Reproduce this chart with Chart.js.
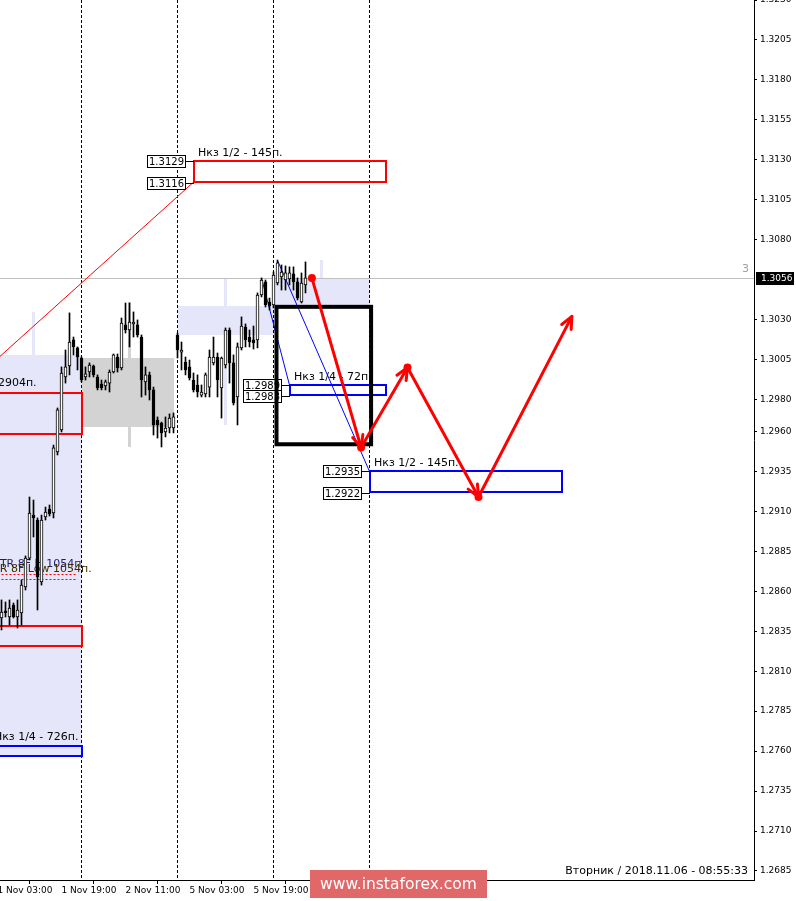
<!DOCTYPE html>
<html>
<head>
<meta charset="utf-8">
<script src="https://cdn.jsdelivr.net/npm/chart.js@4/dist/chart.umd.min.js"></script>
<style>
  html, body { margin: 0; padding: 0; background: #fff; overflow: hidden; }
  canvas { display: block; }
</style>
</head>
<body>
<canvas id="chart" width="796" height="901"></canvas>
<script>
// GBPUSD, H1 candles: bar index counted from 1 Nov 03:00
const barIndex = [0,1,2,3,4,5,6,7,8,9,10,11,12,13,14,15,16,17,18,19,20,21,22,23,24,25,26,27,28,29,30,31,32,33,34,35,36,37,38,39,40,41,42,43,44,45,46,47,48,49,50,51,52,53,54,55,56,57,58,59,60,61,62,63,64,65,66,67,68,69,70,71,72,73,74,75,76,77];
const opens  = [1.28450,1.28433,1.28477,1.28439,1.28514,1.28439,1.28464,1.28627,1.28808,1.29077,1.29046,1.28658,1.29065,1.29115,1.29090,1.29472,1.29609,1.29941,1.30010,1.30173,1.30123,1.30060,1.29941,1.29972,1.30010,1.29941,1.29897,1.29885,1.29903,1.29972,1.30066,1.29997,1.30267,1.30235,1.30273,1.30267,1.30191,1.29910,1.29954,1.29860,1.29672,1.29653,1.29597,1.29622,1.29622,1.30204,1.30097,1.30035,1.30004,1.29922,1.29891,1.29828,1.29835,1.29878,1.30029,1.30066,1.29872,1.30016,1.30235,1.30029,1.29816,1.30123,1.30254,1.30191,1.30173,1.30173,1.30454,1.30536,1.30410,1.30392,1.30529,1.30567,1.30548,1.30554,1.30586,1.30536,1.30410,1.30517];
const highs  = [1.28550,1.28546,1.28533,1.28546,1.28527,1.28546,1.28671,1.28821,1.29190,1.29171,1.29059,1.29077,1.29127,1.29140,1.29515,1.29747,1.30004,1.30110,1.30342,1.30191,1.30129,1.30066,1.30004,1.30029,1.30016,1.29954,1.29922,1.29922,1.29985,1.30085,1.30085,1.30310,1.30404,1.30404,1.30348,1.30298,1.30204,1.30004,1.29972,1.29878,1.29691,1.29659,1.29691,1.29710,1.29716,1.30216,1.30160,1.30066,1.30047,1.29966,1.29954,1.29891,1.29966,1.30110,1.30191,1.30091,1.30066,1.30248,1.30248,1.30079,1.30154,1.30317,1.30273,1.30235,1.30260,1.30467,1.30561,1.30548,1.30435,1.30598,1.30673,1.30642,1.30636,1.30630,1.30630,1.30561,1.30592,1.30661];
const lows   = [1.28380,1.28358,1.28439,1.28389,1.28433,1.28370,1.28389,1.28608,1.28796,1.28940,1.28483,1.28639,1.29046,1.29071,1.29059,1.29453,1.29597,1.29903,1.29954,1.30079,1.29985,1.29910,1.29922,1.29941,1.29941,1.29860,1.29860,1.29860,1.29847,1.29966,1.29972,1.29985,1.30216,1.30129,1.30191,1.30191,1.29816,1.29828,1.29797,1.29578,1.29559,1.29503,1.29566,1.29591,1.29591,1.30060,1.29985,1.29954,1.29922,1.29847,1.29816,1.29816,1.29816,1.29816,1.30016,1.29816,1.29684,1.29997,1.29903,1.29766,1.29641,1.30110,1.30129,1.30129,1.30116,1.30123,1.30442,1.30379,1.30360,1.30373,1.30517,1.30485,1.30485,1.30517,1.30485,1.30423,1.30404,1.30467];
const closes = [1.28480,1.28470,1.28464,1.28495,1.28439,1.28483,1.28639,1.28808,1.29090,1.29059,1.28690,1.29046,1.29096,1.29084,1.29497,1.29735,1.29966,1.30004,1.30160,1.30129,1.30066,1.29922,1.29960,1.30016,1.29954,1.29872,1.29872,1.29910,1.29972,1.30079,1.29997,1.30279,1.30235,1.30285,1.30285,1.30204,1.29922,1.29954,1.29860,1.29641,1.29641,1.29591,1.29622,1.29684,1.29691,1.30110,1.30110,1.29985,1.29935,1.29860,1.29847,1.29847,1.29954,1.30066,1.30066,1.29922,1.30060,1.30235,1.30029,1.29778,1.30129,1.30260,1.30173,1.30160,1.30154,1.30454,1.30548,1.30392,1.30385,1.30579,1.30655,1.30598,1.30592,1.30592,1.30536,1.30435,1.30529,1.30561];

// time axis
const timeTickBars   = [0, 16, 32, 48, 64];
const timeTickLabels = ['1 Nov 03:00', '1 Nov 19:00', '2 Nov 11:00', '5 Nov 03:00', '5 Nov 19:00'];
const daySeparatorBars = [21, 45, 69, 93];

// price axis
const priceTicks = [1.3230,1.3205,1.3180,1.3155,1.3130,1.3105,1.3080,1.3030,1.3005,1.2980,1.2960,1.2935,1.2910,1.2885,1.2860,1.2835,1.2810,1.2785,1.2760,1.2735,1.2710,1.2685];
const priceTickLabels = ['1.3230','1.3205','1.3180','1.3155','1.3130','1.3105','1.3080','1.3030','1.3005','1.2980','1.2960','1.2935','1.2910','1.2885','1.2860','1.2835','1.2810','1.2785','1.2760','1.2735','1.2710','1.2685'];
const lastPrice = 1.3056;
const lastPriceLabel = '1.3056';
const serverTimeText = 'Вторник / 2018.11.06 - 08:55:33';

// daily range boxes
const dayBoxStart = [-20, 21, 45, 69];
const dayBoxEnd   = [21, 44, 69, 93];
const dayBoxHigh  = [1.30079, 1.30060, 1.30385, 1.30561];
const dayBoxLow   = [1.27563, 1.29628, 1.30204, 1.30392];
const dayBoxGrey  = [false, true, false, false];
// midday marks of the same boxes
const dayMarkBar  = [9, 33, 57, 81];
const dayMarkHigh = [1.30348, 1.30410, 1.30561, 1.30673];
const dayMarkLow  = [1.30072, 1.29503, 1.29641, 1.30561];

// target zones
const zoneStart  = [49, 73, 93, -20, -20, -20];
const zoneEnd    = [97, 97, 141, 21, 21, 21];
const zoneTop    = [1.3129, 1.2989, 1.2935, 1.29841, 1.28383, 1.27632];
const zoneBottom = [1.3116, 1.2983, 1.2922, 1.29584, 1.28258, 1.27569];
const zoneIsBuy  = [false, true, true, false, false, true];
const zoneTitle  = ['Нкз 1/2 - 145п.', 'Нкз 1/4 - 72п.', 'Нкз 1/2 - 145п.', '', '', ''];
const zoneTagged = [true, true, true, false, false, false];

// free text notes: bar, price, text
const noteBar   = [0.1, -0.9, -0.1, 0.6, -1.1];
const notePrice = [1.29903, 1.27688, 1.28095, 1.28771, 1.28740];
const noteText  = ['2904п.', 'Нкз 1/4 - 726п.', '.', 'TR 8F H 1054п.', 'TR 8F Low 1054п.'];
const noteColor = ['#000', '#000', '#000', '#1c1c70', '#3a2e00'];

// ATR reference levels
const atrLevelPrice = [1.28708, 1.28677];
const atrLevelColor = ['#ff0000', '#008000'];
const atrLevelEnd = 20;

// trend lines: [bar, price] -> [bar, price]
const redTrend  = [[0.625, 1.3007], [49, 1.3116]];
const blueTrendA = [[70, 1.3067], [93, 1.2935]];
const blueTrendB = [[66, 1.3056], [73, 1.2989]];

// expected path
const pathBars   = [78.6, 90.9, 102.5, 120.25, 143.6];
const pathPrices = [1.3056, 1.2950, 1.3000, 1.2919, 1.3032];

// consolidation frame
const frameBars   = [69.75, 93.4];
const framePrices = [1.3038, 1.2952];

const X_MIN = 0.625, X_MAX = 189.125;
const Y_MIN = 1.267934, Y_MAX = 1.3230;

const wickData = barIndex.map((b, k) => ({ x: b, y: [lows[k], highs[k]] }));
const bodyData = barIndex.map((b, k) => ({ x: b, y: [Math.min(opens[k], closes[k]), Math.max(opens[k], closes[k])] }));
const bodyFill = barIndex.map((b, k) => closes[k] >= opens[k] ? '#ffffff' : '#000000');

const FONT = 'DejaVu Sans';

function fmtPrice(p) { return p.toFixed(4); }
function noPadding(s) { s.paddingLeft = 0; s.paddingRight = 0; s.paddingTop = 0; s.paddingBottom = 0; }

const drawings = {
  id: 'drawings',
  beforeDatasetsDraw(chart) {
    const { ctx, chartArea: a } = chart;
    const X = v => chart.scales.x.getPixelForValue(v);
    const Y = v => chart.scales.y.getPixelForValue(v);
    ctx.save();
    ctx.beginPath(); ctx.rect(a.left, a.top, a.right - a.left, a.bottom - a.top); ctx.clip();

    // daily boxes
    dayBoxStart.forEach((s, k) => {
      ctx.fillStyle = dayBoxGrey[k] ? '#d3d3d3' : '#e6e6fa';
      const x0 = Math.round(X(s)), x1 = Math.round(X(dayBoxEnd[k]));
      const y0 = Math.round(Y(dayBoxHigh[k])), y1 = Math.round(Y(dayBoxLow[k]));
      ctx.fillRect(x0, y0, x1 - x0, y1 - y0);
    });
    dayMarkBar.forEach((b, k) => {
      ctx.fillStyle = dayBoxGrey[k] ? '#d3d3d3' : '#e6e6fa';
      const xc = X(b);
      const y0 = Math.round(Y(dayMarkHigh[k])), y1 = Math.round(Y(dayMarkLow[k]));
      ctx.fillRect(Math.round(xc - 1.5), y0, 3, y1 - y0);
    });

    // day separators
    ctx.strokeStyle = '#000'; ctx.lineWidth = 1; ctx.setLineDash([3, 2]);
    daySeparatorBars.forEach(b => {
      const x = Math.floor(X(b)) + 0.5;
      ctx.beginPath(); ctx.moveTo(x, a.top); ctx.lineTo(x, a.bottom); ctx.stroke();
    });
    ctx.setLineDash([]);

    // bid line
    ctx.strokeStyle = '#c0c0c0';
    const yb = Math.round(Y(lastPrice)) + 0.5;
    ctx.beginPath(); ctx.moveTo(a.left, yb); ctx.lineTo(a.right, yb); ctx.stroke();

    // ATR levels
    ctx.setLineDash([2, 2]);
    atrLevelPrice.forEach((p, k) => {
      ctx.strokeStyle = atrLevelColor[k];
      const y = Math.round(Y(p)) + 0.5;
      ctx.beginPath(); ctx.moveTo(X(-20), y); ctx.lineTo(X(atrLevelEnd), y); ctx.stroke();
    });
    ctx.setLineDash([]);

    // trend lines
    const seg = (pts, color) => {
      ctx.strokeStyle = color; ctx.lineWidth = 1;
      ctx.beginPath(); ctx.moveTo(X(pts[0][0]), Y(pts[0][1])); ctx.lineTo(X(pts[1][0]), Y(pts[1][1])); ctx.stroke();
    };
    seg(redTrend, '#ff0000');
    seg(blueTrendA, '#0000ff');
    seg(blueTrendB, '#0000ff');

    // zones
    zoneStart.forEach((s, k) => {
      ctx.strokeStyle = zoneIsBuy[k] ? '#0000ff' : '#ff0000';
      ctx.lineWidth = 2;
      const x0 = Math.round(X(s)), x1 = Math.round(X(zoneEnd[k]));
      const y0 = Math.round(Y(zoneTop[k])), y1 = Math.round(Y(zoneBottom[k]));
      ctx.strokeRect(x0, y0, x1 - x0, y1 - y0);
      if (zoneTitle[k]) {
        ctx.fillStyle = '#000';
        ctx.font = '11px "' + FONT + '"';
        ctx.textAlign = 'left'; ctx.textBaseline = 'alphabetic';
        ctx.fillText(zoneTitle[k], x0 + 4, y0 - 5);
      }
    });

    // notes
    ctx.font = '11px "' + FONT + '"';
    ctx.textAlign = 'left'; ctx.textBaseline = 'middle';
    noteText.forEach((t, k) => {
      ctx.fillStyle = noteColor[k];
      ctx.fillText(t, X(noteBar[k]), Y(notePrice[k]));
    });
    ctx.restore();
  },
  afterDatasetsDraw(chart) {
    const { ctx, chartArea: a } = chart;
    const X = v => chart.scales.x.getPixelForValue(v);
    const Y = v => chart.scales.y.getPixelForValue(v);
    ctx.save();
    ctx.beginPath(); ctx.rect(a.left, a.top, a.right - a.left, a.bottom - a.top); ctx.clip();

    // price tags at zone edges
    ctx.font = '10px "' + FONT + '"';
    ctx.textBaseline = 'middle'; ctx.textAlign = 'left';
    zoneStart.forEach((s, k) => {
      if (!zoneTagged[k]) return;
      const xz = Math.round(X(s));
      [zoneTop[k], zoneBottom[k]].forEach((p, j) => {
        const t = fmtPrice(p);
        const w = Math.ceil(ctx.measureText(t).width) + 4;
        const yc = Math.round(Y(p)) + (j === 1 ? 1 : 0);
        const xr = xz - 8;
        ctx.fillStyle = '#fff';
        ctx.fillRect(xr - w, yc - 6, w, 13);
        ctx.strokeStyle = '#000'; ctx.lineWidth = 1;
        ctx.strokeRect(xr - w + 0.5, yc - 6 + 0.5, w - 1, 12);
        ctx.beginPath(); ctx.moveTo(xr, yc + 0.5); ctx.lineTo(xz, yc + 0.5); ctx.stroke();
        ctx.fillStyle = '#000';
        ctx.fillText(t, xr - w + 2, yc + 1);
      });
    });

    // consolidation frame
    ctx.strokeStyle = '#000'; ctx.lineWidth = 4;
    ctx.strokeRect(X(frameBars[0]), Y(framePrices[0]), X(frameBars[1]) - X(frameBars[0]), Y(framePrices[1]) - Y(framePrices[0]));

    // expected path
    ctx.strokeStyle = '#ff0000'; ctx.fillStyle = '#ff0000'; ctx.lineWidth = 3;
    ctx.lineCap = 'round'; ctx.lineJoin = 'round';
    for (let k = 0; k < pathBars.length - 1; k++) {
      const x0 = X(pathBars[k]), y0 = Y(pathPrices[k]);
      const x1 = X(pathBars[k + 1]), y1 = Y(pathPrices[k + 1]);
      ctx.beginPath(); ctx.moveTo(x0, y0); ctx.lineTo(x1, y1); ctx.stroke();
      ctx.beginPath(); ctx.arc(x0, y0, 4, 0, Math.PI * 2); ctx.fill();
      const ang = Math.atan2(y1 - y0, x1 - x0);
      const L = 13, h = 0.42;
      ctx.beginPath();
      ctx.moveTo(x1 - L * Math.cos(ang - h), y1 - L * Math.sin(ang - h));
      ctx.lineTo(x1, y1);
      ctx.lineTo(x1 - L * Math.cos(ang + h), y1 - L * Math.sin(ang + h));
      ctx.stroke();
    }
    ctx.restore();

    // marker near the axis
    ctx.save();
    ctx.font = '11px "' + FONT + '"';
    ctx.fillStyle = '#a0a0a0'; ctx.textAlign = 'right'; ctx.textBaseline = 'alphabetic';
    ctx.fillText('3', a.right - 5, Y(lastPrice) - 6);

    // server time
    ctx.fillStyle = '#000'; ctx.textAlign = 'right'; ctx.textBaseline = 'middle';
    ctx.fillText(serverTimeText, a.right - 6, a.bottom - 9);

    // last price tag on the axis
    const yl = Math.round(Y(lastPrice));
    ctx.fillStyle = '#000';
    ctx.fillRect(a.right + 2, yl - 6, 38, 13);
    ctx.fillStyle = '#fff';
    ctx.font = '9px "' + FONT + '"';
    ctx.textAlign = 'left'; ctx.textBaseline = 'middle';
    ctx.fillText(lastPriceLabel, a.right + 7, yl + 1);

    // site mark
    ctx.fillStyle = '#e06868';
    ctx.fillRect(310, 870, 177, 28);
    ctx.fillStyle = '#fff';
    ctx.font = '15.5px "' + FONT + '"';
    ctx.textAlign = 'center'; ctx.textBaseline = 'middle';
    ctx.fillText('www.instaforex.com', 398.5, 885);
    ctx.restore();
  }
};

new Chart(document.getElementById('chart'), {
  type: 'bar',
  data: {
    datasets: [
      { data: wickData, backgroundColor: '#000', borderWidth: 0, barThickness: 1, grouped: false, order: 2 },
      { data: bodyData, backgroundColor: bodyFill, borderColor: '#000', borderWidth: 1, borderSkipped: false,
        barThickness: 3, minBarLength: 1, grouped: false, order: 1 }
    ]
  },
  options: {
    responsive: false,
    animation: false,
    devicePixelRatio: 1,
    events: [],
    layout: { padding: 0 },
    plugins: { legend: { display: false }, tooltip: { enabled: false } },
    scales: {
      x: {
        type: 'linear', position: 'bottom', min: X_MIN, max: X_MAX, offset: false, bounds: 'data',
        afterBuildTicks: s => { s.ticks = timeTickBars.map(v => ({ value: v })); },
        afterFit: s => { s.height = 21; noPadding(s); },
        ticks: { autoSkip: false, maxRotation: 0, minRotation: 0, align: 'start', padding: 1, color: '#000',
                 font: { family: FONT, size: 9 }, callback: (v, i) => timeTickLabels[i] },
        grid: { drawOnChartArea: false, drawTicks: true, tickLength: 4, color: '#000' },
        border: { display: true, color: '#000' }
      },
      y: {
        type: 'linear', position: 'right', min: Y_MIN, max: Y_MAX, bounds: 'data',
        afterBuildTicks: s => { s.ticks = priceTicks.map(v => ({ value: v })); },
        afterFit: s => { s.width = 42; noPadding(s); },
        ticks: { autoSkip: false, padding: 3, color: '#000',
                 font: { family: FONT, size: 9 }, callback: (v, i) => priceTickLabels[i] },
        grid: { drawOnChartArea: false, drawTicks: true, tickLength: 3, color: '#000' },
        border: { display: true, color: '#000' }
      }
    }
  },
  plugins: [drawings]
});
</script>
</body>
</html>
